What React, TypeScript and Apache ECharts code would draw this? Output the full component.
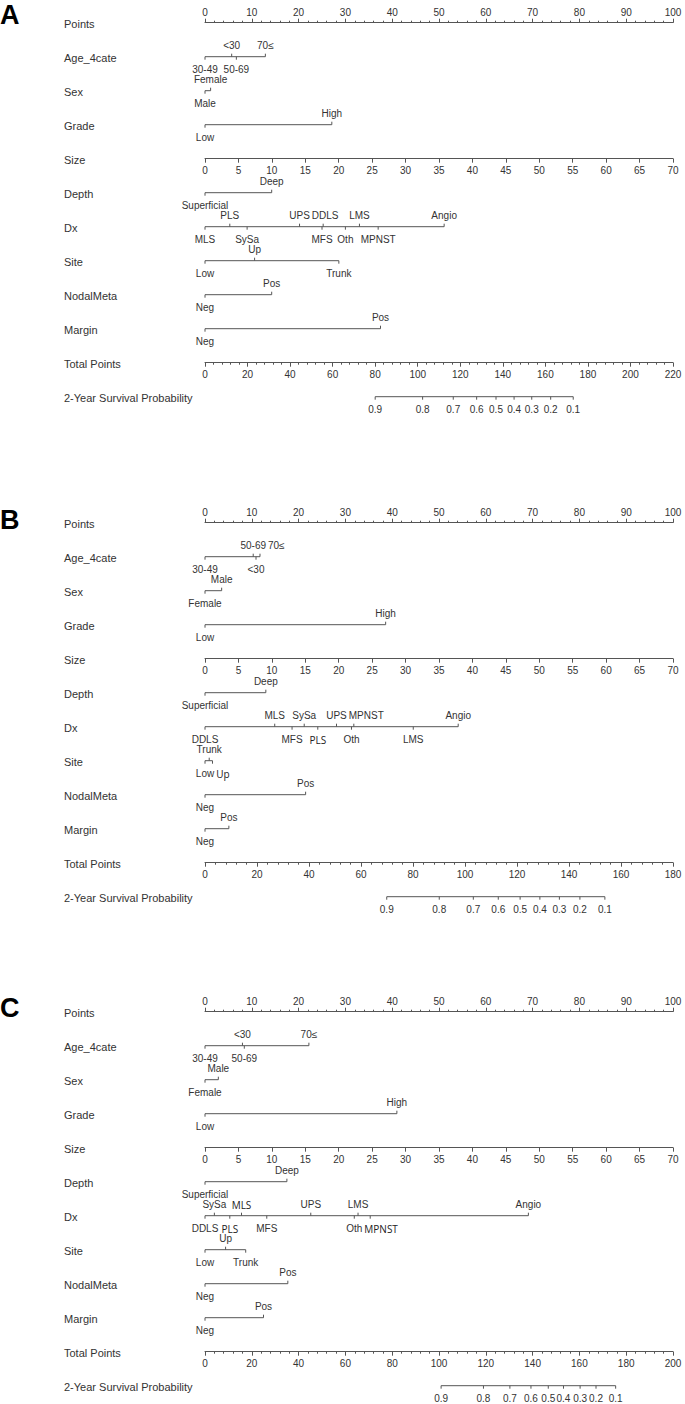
import React, { useEffect, useRef } from "react";
import * as echarts from "echarts";

// ---------- data (points scale 0-100) ----------
const rowNames = ["Points", "Age_4cate", "Sex", "Grade", "Size", "Depth", "Dx", "Site", "NodalMeta", "Margin", "Total Points", "2-Year Survival Probability"];
const panelLetters = ["A", "B", "C"];

const ageLevels = ["30-49", "<30", "50-69", "70≤"];
const ageA = [0, 5.7, 6.7, 12.9];
const ageB = [0, 10.9, 10.3, 11.75];
const ageC = [0, 8.0, 8.4, 22.2];

const sexLevels = ["Male", "Female"];
const sexA = [0, 1.2];
const sexB = [3.56, 0];
const sexC = [2.85, 0];

const gradeLevels = ["Low", "High"];
const gradeA = [0, 27.1];
const gradeB = [0, 38.6];
const gradeC = [0, 41.0];

const depthLevels = ["Superficial", "Deep"];
const depthA = [0, 14.25];
const depthB = [0, 13.0];
const depthC = [0, 17.5];

const dxLevels = ["MLS", "PLS", "SySa", "UPS", "MFS", "DDLS", "Oth", "LMS", "MPNST", "Angio"];
const dxA = [0, 5.3, 9.0, 20.2, 25.0, 25.25, 30.0, 33.0, 37.0, 51.1];
const dxB = [14.9, 24.1, 21.2, 28.1, 18.6, 0, 31.3, 44.5, 31.8, 54.1];
const dxC = [7.8, 5.3, 2.0, 22.6, 13.2, 0, 31.9, 32.7, 35.3, 69.1];

const siteLevels = ["Low", "Up", "Trunk"];
const siteA = [0, 10.6, 28.6];
const siteB = [0, 1.6, 0.9];
const siteC = [0, 4.4, 8.7];

const nodalLevels = ["Neg", "Pos"];
const nodalA = [0, 14.25];
const nodalB = [0, 21.5];
const nodalC = [0, 17.7];

const marginLevels = ["Neg", "Pos"];
const marginA = [0, 37.5];
const marginB = [0, 5.1];
const marginC = [0, 12.5];

const sizeMax = 70;
const sizeStep = 5;
const totalMax = [220, 180, 200];
const totalStep = 20;

const survLabels = ["0.9", "0.8", "0.7", "0.6", "0.5", "0.4", "0.3", "0.2", "0.1"];
const survA = [80, 102.3, 116.7, 127.7, 136.8, 145.3, 153.6, 162.5, 173.1];
const survB = [69.9, 90.1, 103.2, 112.8, 121.2, 128.8, 136.3, 144.2, 153.8];
const survC = [100.9, 119.0, 130.3, 139.3, 146.7, 153.2, 160.3, 167.1, 175.5];

// labels that were retyped in another font in the original figure
const altLabelsA: string[] = [];
const altLabelsB = ["Site:Up", "Dx:PLS"];
const altLabelsC = ["Dx:MLS", "Dx:PLS", "Dx:MPNST"];

// ---------- style / layout ----------
const FONT = "'Liberation Sans', Arial, sans-serif";
const ALT_FONT = "'Open Sans', sans-serif";
const TEXT = "#333";
const LINE = "#555";
const W = 685;
const H = 1404;
const AXIS_LEFT = 205;
const AXIS_WIDTH = 468;
const ROW0 = 22.7;
const ROW_STEP = 34;
const panelOffsets = [0, 500, 989];
const letterY = [15, 520, 1008];
const LABEL_X = 64;
const GAP = 2;

const measureCtx: CanvasRenderingContext2D | null =
  typeof document !== "undefined" ? document.createElement("canvas").getContext("2d") : null;
function textW(t: string, font: string) {
  if (!measureCtx) return t.length * 5.5;
  measureCtx.font = font;
  return measureCtx.measureText(t).width;
}

function rowY(p: number, i: number) {
  return panelOffsets[p] + ROW0 + ROW_STEP * i;
}

type CatVar = { name: string; row: number; levels: string[]; pts: number[]; alt: string[] };

function buildPanelVars(p: number): CatVar[] {
  const age = [ageA, ageB, ageC][p];
  const sex = [sexA, sexB, sexC][p];
  const grade = [gradeA, gradeB, gradeC][p];
  const depth = [depthA, depthB, depthC][p];
  const dx = [dxA, dxB, dxC][p];
  const site = [siteA, siteB, siteC][p];
  const nodal = [nodalA, nodalB, nodalC][p];
  const margin = [marginA, marginB, marginC][p];
  const alt = [altLabelsA, altLabelsB, altLabelsC][p];
  const mk = (name: string, row: number, levels: string[], pts: number[]): CatVar => ({
    name,
    row,
    levels,
    pts,
    alt: alt.filter((a) => a.startsWith(name + ":")).map((a) => a.slice(name.length + 1)),
  });
  return [
    mk("Age", 1, ageLevels, age),
    mk("Sex", 2, sexLevels, sex),
    mk("Grade", 3, gradeLevels, grade),
    mk("Depth", 5, depthLevels, depth),
    mk("Dx", 6, dxLevels, dx),
    mk("Site", 7, siteLevels, site),
    mk("Nodal", 8, nodalLevels, nodal),
    mk("Margin", 9, marginLevels, margin),
  ];
}

function txt(text: string, x: number, y: number, font: string, align: string, fill = TEXT) {
  return {
    type: "text",
    x,
    y,
    style: {
      text,
      font,
      fill,
      textAlign: align,
      textVerticalAlign: "middle",
      align,
      verticalAlign: "middle",
    },
  };
}

function ln(x1: number, y1: number, x2: number, y2: number) {
  return { type: "line", shape: { x1, y1, x2, y2 }, style: { stroke: LINE, lineWidth: 1 } };
}

function catRenderer(vars: CatVar[]) {
  return (params: any, api: any) => {
    const vi = api.value(2);
    const v = vars[vi];
    const row = v.row;
    const items = v.levels
      .map((l, i) => ({ l, p: v.pts[i], alt: v.alt.includes(l) }))
      .sort((a, b) => a.p - b.p);
    const y = api.coord([0, row])[1];
    const xs = items.map((it) => api.coord([it.p, row])[0]);
    const children: any[] = [ln(Math.min(...xs), y, Math.max(...xs), y)];
    const prevRight: Record<string, number> = { above: -Infinity, below: -Infinity };
    items.forEach((it, i) => {
      const side = i % 2 === 0 ? "below" : "above";
      const x = xs[i];
      children.push(ln(x, y, x, y + (side === "below" ? 3 : -3)));
      const font = it.alt ? `10px ${ALT_FONT}` : `10px ${FONT}`;
      const w = textW(it.l, font);
      let cx = x;
      if (cx - w / 2 < prevRight[side] + GAP) cx = prevRight[side] + GAP + w / 2;
      prevRight[side] = cx + w / 2;
      children.push(txt(it.l, cx, y + (side === "below" ? 13 : -11), font, "center", it.alt ? "#222" : TEXT));
    });
    return { type: "group", children };
  };
}

function survRenderer(vals: number[]) {
  return (params: any, api: any) => {
    const y = api.coord([0, 0])[1];
    const xs = vals.map((v) => api.coord([v, 0])[0]);
    const children: any[] = [ln(xs[0], y, xs[xs.length - 1], y)];
    xs.forEach((x, i) => {
      children.push(ln(x, y, x, y + 3));
      children.push(txt(survLabels[i], x, y + 13, `10px ${FONT}`, "center"));
    });
    return { type: "group", children };
  };
}

function axisCommon() {
  return {
    axisLine: { show: true, lineStyle: { color: LINE, width: 1 } },
    axisTick: { show: true, inside: false, length: 4, lineStyle: { color: LINE, width: 1 } },
    axisLabel: { fontSize: 10, color: TEXT, fontFamily: FONT },
    splitLine: { show: false },
    minorSplitLine: { show: false },
  };
}

function buildOption() {
  const grid: any[] = [];
  const xAxis: any[] = [];
  const yAxis: any[] = [];
  const series: any[] = [];
  const graphic: any[] = [];

  for (let p = 0; p < 3; p++) {
    const base = grid.length;
    const vars = buildPanelVars(p);
    // main grid: points axis + categorical rows
    grid.push({ left: AXIS_LEFT, width: AXIS_WIDTH, top: rowY(p, 0), height: ROW_STEP * 11 });
    xAxis.push({
      ...axisCommon(),
      gridIndex: base,
      type: "value",
      position: "top",
      min: 0,
      max: 100,
      interval: 10,
      minorTick: { show: true, splitNumber: 5, length: 2, lineStyle: { color: LINE, width: 1 } },
      axisLabel: { fontSize: 10, color: TEXT, fontFamily: FONT, margin: 5 },
    });
    yAxis.push({ gridIndex: base, type: "value", min: 0, max: 11, inverse: true, show: false });
    series.push({
      type: "custom",
      xAxisIndex: base,
      yAxisIndex: base,
      renderItem: catRenderer(vars),
      data: vars.map((v, i) => [0, v.row, i]),
      silent: true,
    });

    // size axis
    grid.push({ left: AXIS_LEFT, width: AXIS_WIDTH, top: rowY(p, 4) - 10, height: 10 });
    xAxis.push({
      ...axisCommon(),
      gridIndex: base + 1,
      type: "value",
      position: "bottom",
      min: 0,
      max: sizeMax,
      interval: sizeStep,
      axisLabel: { fontSize: 10, color: TEXT, fontFamily: FONT, margin: 7 },
    });
    yAxis.push({ gridIndex: base + 1, type: "value", min: 0, max: 1, show: false });
    series.push({ type: "line", xAxisIndex: base + 1, yAxisIndex: base + 1, data: [] });

    // total points axis
    grid.push({ left: AXIS_LEFT, width: AXIS_WIDTH, top: rowY(p, 10) - 10, height: 10 });
    xAxis.push({
      ...axisCommon(),
      gridIndex: base + 2,
      type: "value",
      position: "bottom",
      min: 0,
      max: totalMax[p],
      interval: totalStep,
      minorTick: { show: true, splitNumber: 5, length: 2, lineStyle: { color: LINE, width: 1 } },
      axisLabel: { fontSize: 10, color: TEXT, fontFamily: FONT, margin: 7 },
    });
    yAxis.push({ gridIndex: base + 2, type: "value", min: 0, max: 1, show: false });
    series.push({ type: "line", xAxisIndex: base + 2, yAxisIndex: base + 2, data: [] });

    // survival axis (in total-points units)
    grid.push({ left: AXIS_LEFT, width: AXIS_WIDTH, top: rowY(p, 11) - 10, height: 10 });
    xAxis.push({ gridIndex: base + 3, type: "value", min: 0, max: totalMax[p], show: false });
    yAxis.push({ gridIndex: base + 3, type: "value", min: 0, max: 1, show: false });
    series.push({
      type: "custom",
      xAxisIndex: base + 3,
      yAxisIndex: base + 3,
      renderItem: survRenderer([survA, survB, survC][p]),
      data: [[0, 0]],
      silent: true,
    });

    // row labels
    rowNames.forEach((n, i) => {
      graphic.push(txt(n, LABEL_X, rowY(p, i) + 1, `11px ${FONT}`, "left"));
    });
    graphic.push(txt(panelLetters[p], 0, letterY[p], `bold 27px ${FONT}`, "left", "#000"));
  }

  return { animation: false, backgroundColor: "#fff", grid, xAxis, yAxis, series, graphic };
}

export default function App() {
  const ref = useRef<HTMLDivElement>(null);
  useEffect(() => {
    if (!ref.current) return;
    const chart = echarts.init(ref.current, undefined, { renderer: "svg" });
    chart.setOption(buildOption() as any);
    return () => chart.dispose();
  }, []);
  return <div ref={ref} style={{ position: "absolute", left: 0, top: 0, width: W, height: H }} />;
}
